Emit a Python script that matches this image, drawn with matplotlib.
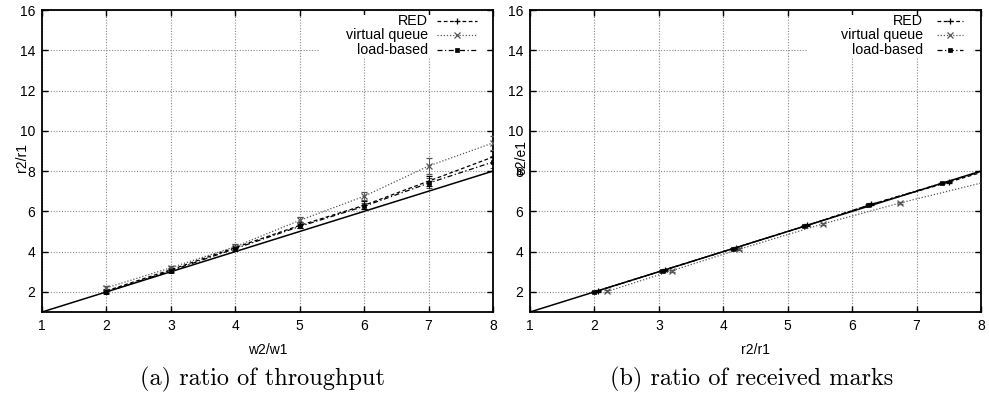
import matplotlib
matplotlib.use("Agg")
import matplotlib.pyplot as plt
from matplotlib.patches import Rectangle

plt.rcParams["font.family"] = ["Liberation Sans", "DejaVu Sans"]
plt.rcParams["font.size"] = 10

# weight ratio w2/w1
weights = [2, 3, 4, 5, 6, 7, 8]

# throughput ratio r2/r1 per scheme, with half-width of the error bars
red_thr = [2.05, 3.10, 4.20, 5.30, 6.30, 7.50, 8.70]
red_thr_err = [0.10, 0.10, 0.10, 0.15, 0.20, 0.25, 0.30]
vq_thr = [2.20, 3.20, 4.25, 5.55, 6.75, 8.25, 9.40]
vq_thr_err = [0.10, 0.10, 0.15, 0.15, 0.20, 0.40, 0.35]
lb_thr = [2.00, 3.05, 4.15, 5.25, 6.25, 7.40, 8.45]
lb_thr_err = [0.10, 0.10, 0.10, 0.10, 0.15, 0.25, 0.30]

# received-marks ratio e2/e1, plotted against the throughput ratio
red_marks = [2.05, 3.10, 4.20, 5.30, 6.35, 7.45, 8.60]
vq_marks = [2.02, 3.05, 4.12, 5.38, 6.42, 7.60, 8.45]
lb_marks = [2.00, 3.05, 4.15, 5.25, 6.30, 7.40, 8.40]
marks_err = 0.05

ideal = [1, 8]

series_names = ["RED", "virtual queue", "load-based"]
series_styles = [
    dict(ls=(0, (3, 2)), marker="+", color="black", lw=0.9, ms=5, mew=0.9),
    dict(ls=(0, (1, 1.5)), marker="x", color="#555555", lw=0.9, ms=4, mew=0.9),
    dict(ls=(0, (4, 2, 1, 2)), marker="s", color="black", lw=0.9, ms=3.2, mew=0.5),
]

fig = plt.figure(figsize=(9.89, 3.97), dpi=100)
axA = fig.add_axes([0.0425, 0.2141, 0.456, 0.7607])
axB = fig.add_axes([0.5359, 0.2141, 0.456, 0.7607])


def style_axes(ax):
    ax.set_xlim(1, 8)
    ax.set_ylim(1, 16)
    ax.set_xticks(range(1, 9))
    ax.set_yticks(range(2, 17, 2))
    ax.grid(True, color="#888888", ls=(0, (1, 1.5)), lw=0.8)
    ax.tick_params(direction="in", length=4, width=1, top=True, right=True,
                   labelsize=10, pad=5)
    for sp in ax.spines.values():
        sp.set_linewidth(1.3)


def draw_legend(ax, text_x, line_x0, line_x1, box_x0, box_x1):
    # white block behind the key so grid lines stop there
    ax.add_patch(Rectangle((box_x0, 0.844), box_x1 - box_x0, 0.139,
                           transform=ax.transAxes, facecolor="white",
                           edgecolor="none", zorder=2))
    ys = [0.964, 0.917, 0.868]
    for name, st, y in zip(series_names, series_styles, ys):
        ax.text(text_x, y, name, transform=ax.transAxes, ha="right",
                va="center", fontsize=10.3, zorder=3)
        ax.plot([line_x0, line_x1], [y, y], transform=ax.transAxes,
                ls=st["ls"], color=st["color"], lw=st["lw"], zorder=3)
        ax.plot([(line_x0 + line_x1) / 2], [y], transform=ax.transAxes,
                ls="none", marker=st["marker"], color=st["color"],
                ms=st["ms"], mew=st["mew"], zorder=3)


# (a) throughput ratio
style_axes(axA)
axA.plot(ideal, ideal, color="black", lw=1.1, zorder=4)
for vals, errs, st in zip([red_thr, vq_thr, lb_thr],
                          [red_thr_err, vq_thr_err, lb_thr_err],
                          series_styles):
    axA.errorbar(weights, vals, yerr=errs, ecolor=st["color"], elinewidth=0.7,
                 capsize=2, capthick=0.7, zorder=5, **st)
axA.set_xlabel("w2/w1", fontsize=10, va="center")
axA.xaxis.set_label_coords(0.5, -0.126)
axA.set_ylabel("r2/r1", fontsize=10, va="center")
axA.yaxis.set_label_coords(-0.044, 0.513)
draw_legend(axA, 0.856, 0.876, 0.965, 0.616, 0.987)

# (b) received marks ratio
style_axes(axB)
axB.plot(ideal, ideal, color="black", lw=1.1, zorder=4)
for xs, vals, st in zip([red_thr, vq_thr, lb_thr],
                        [red_marks, vq_marks, lb_marks],
                        series_styles):
    axB.errorbar(xs, vals, yerr=marks_err, ecolor=st["color"], elinewidth=0.7,
                 capsize=2, capthick=0.7, zorder=5, **st)
axB.set_xlabel("r2/r1", fontsize=10, va="center")
axB.xaxis.set_label_coords(0.5, -0.126)
axB.set_ylabel("e2/e1", fontsize=10, va="center")
axB.yaxis.set_label_coords(-0.02, 0.513)
draw_legend(axB, 0.871, 0.902, 0.960, 0.614, 0.982)

fig.text(262 / 989, 0.043, "(a) ratio of throughput", family="cmr10",
         fontsize=17.5, ha="center", va="center")
fig.text(752 / 989, 0.043, "(b) ratio of received marks", family="cmr10",
         fontsize=17.5, ha="center", va="center")

fig.savefig("out.png", dpi=100)
